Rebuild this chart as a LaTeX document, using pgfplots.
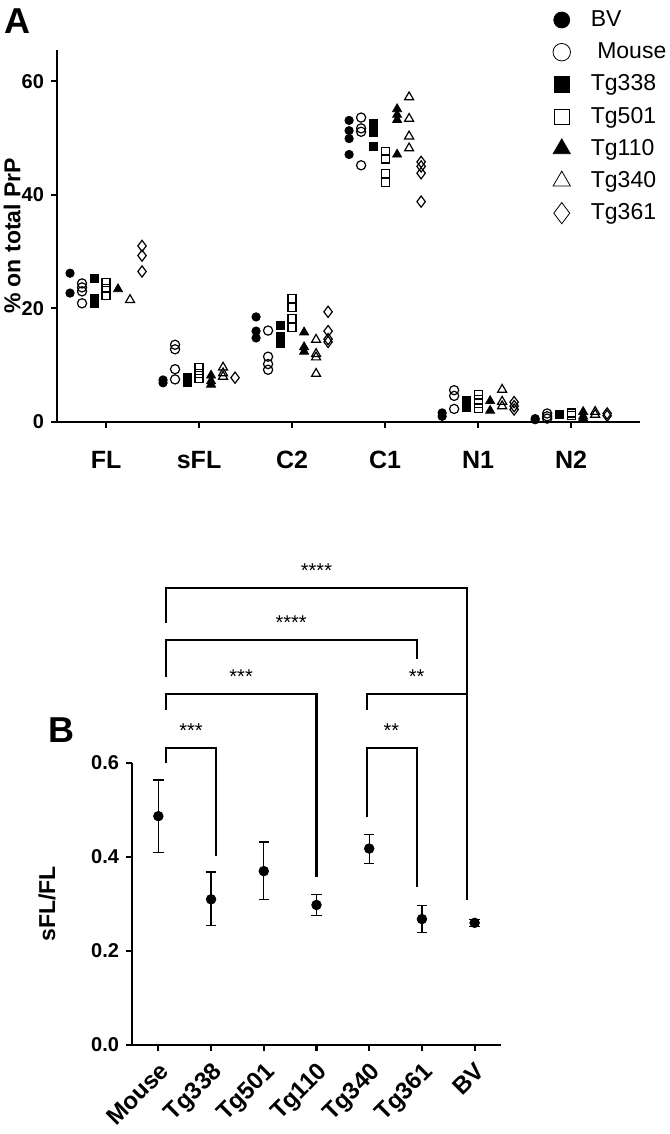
\documentclass[border=0pt]{standalone}
\usepackage{fontspec}
\setmainfont{Liberation Sans}
\usepackage{pgfplots}
\pgfplotsset{compat=1.18}

\pgfplotsset{
  gp/.style={
    scale only axis,
    axis lines*=left,
    axis line style={line width=1pt},
    tick style={line width=1pt, black},
    tick align=outside,
    major tick length=3pt,
    clip=false,
    /pgf/number format/assume math mode=true,
    yticklabel style={font=\bfseries\fontsize{10}{12}\selectfont},
  },
  sBV/.style={black, only marks, mark=*, mark size=2.1pt},
  sMouse/.style={black, only marks, mark=o, mark size=2.3pt, mark options={line width=0.6pt}},
  sT338/.style={black, only marks, mark=square*, mark size=2pt},
  sT501/.style={black, only marks, mark=square, mark size=2pt, mark options={line width=0.6pt}},
  sT110/.style={black, only marks, mark=triangle*, mark size=2.6pt},
  sT340/.style={black, only marks, mark=triangle, mark size=2.6pt, mark options={line width=0.6pt}},
  sT361/.style={black, only marks, mark=diamond, mark size=2.8pt, mark options={line width=0.6pt}},
}

\begin{document}
\begin{tikzpicture}
\useasboundingbox (0,0) rectangle (334.5pt,-567pt);

% ---------------- panel A ----------------
\begin{axis}[gp,
  at={(28.5pt,-211pt)}, anchor=south west,
  width=291.5pt, height=186pt,
  xmin=-0.527, xmax=5.74, ymin=0, ymax=65.5,
  xtick={0,...,5},
  xticklabels={FL,sFL,C2,C1,N1,N2},
  xticklabel style={font=\bfseries\fontsize{12.5}{14}\selectfont, yshift=-8pt},
  ytick={0,20,40,60},
  ylabel={\% on total PrP},
  ylabel style={font=\bfseries\fontsize{11.5}{13}\selectfont, at={(axis description cs:-0.077,0.5)}, anchor=center},
  legend style={at={(axis description cs:0.84,1.118)}, anchor=north west, draw=none, fill=none,
    font=\fontsize{11.5}{13}\selectfont, row sep=2.6pt, inner sep=0pt,
    nodes={inner sep=1pt, text height=9pt, text depth=2.5pt}},
  legend cell align=left,
  legend image code/.code={\draw[#1, mark options={scale=1.9}] plot coordinates {(0.25cm,0cm)};
    \path (0cm,0cm) (0.72cm,0cm);},
]
\addplot[sBV] coordinates {(-0.387,26.2)(-0.387,22.7)(0.613,7.4)(0.613,6.9)(1.613,18.5)(1.613,16.0)(1.613,14.8)
  (2.613,53.1)(2.613,51.3)(2.613,49.9)(2.613,47.1)(3.613,1.6)(3.613,1.0)(4.613,0.6)(4.613,0.4)};
\addplot[sMouse] coordinates {(-0.258,24.4)(-0.258,23.7)(-0.258,23.0)(-0.258,20.9)(0.742,13.6)(0.742,12.8)(0.742,9.3)(0.742,7.5)
  (1.742,16.1)(1.742,11.5)(1.742,10.2)(1.742,9.2)(2.742,53.6)(2.742,51.7)(2.742,51.1)(2.742,45.2)
  (3.742,5.6)(3.742,4.6)(3.742,2.3)(4.742,1.5)(4.742,1.0)(4.742,0.6)};
\addplot[sT338] coordinates {(-0.129,25.3)(-0.129,21.8)(-0.129,20.9)(0.871,7.8)(0.871,7.0)(1.871,17.0)(1.871,15.0)(1.871,13.8)
  (2.871,52.5)(2.871,51.0)(2.871,48.5)(3.871,3.8)(3.871,2.5)(4.871,1.3)};
\addplot[sT501] coordinates {(0,24.5)(0,23.5)(0,22.3)(1,9.6)(1,8.6)(1,7.6)(2,21.8)(2,20.2)(2,18.2)(2,16.6)
  (3,47.6)(3,46.3)(3,43.7)(3,42.2)(4,4.9)(4,4.0)(4,3.2)(4,2.4)(5,1.6)(5,1.2)};
\addplot[sT110] coordinates {(0.129,23.4)(1.129,8.2)(1.129,7.2)(1.129,6.6)(2.129,15.8)(2.129,13.2)(2.129,12.4)
  (3.129,55.1)(3.129,54.1)(3.129,53.2)(3.129,47.1)(4.129,3.7)(4.129,2.0)(5.129,1.8)(5.129,1.0)(5.129,0.6)};
\addplot[sT340] coordinates {(0.258,21.5)(1.258,9.6)(1.258,8.6)(1.258,8.0)(2.258,14.5)(2.258,12.0)(2.258,11.4)(2.258,8.5)
  (3.258,57.2)(3.258,53.4)(3.258,50.3)(3.258,48.2)(4.258,5.7)(4.258,3.6)(4.258,2.8)(5.258,1.8)(5.258,1.3)};
\addplot[sT361] coordinates {(0.387,31.0)(0.387,29.3)(0.387,26.5)(1.387,7.8)(2.387,19.4)(2.387,16.0)(2.387,14.6)(2.387,14.1)
  (3.387,45.8)(3.387,45.0)(3.387,43.8)(3.387,38.8)(4.387,3.5)(4.387,2.8)(4.387,2.2)(5.387,1.5)(5.387,1.1)};
\legend{BV,\ Mouse,Tg338,Tg501,Tg110,Tg340,Tg361}
\node[font=\bfseries\fontsize{18}{20}\selectfont] at (axis description cs:-0.067,1.078) {A};
\end{axis}

% ---------------- panel B ----------------
\begin{axis}[gp,
  at={(66pt,-522.5pt)}, anchor=south west,
  width=184.5pt, height=141pt,
  xmin=-0.5, xmax=6.5, ymin=0, ymax=0.6,
  xtick={0,...,6},
  xticklabels={Mouse,Tg338,Tg501,Tg110,Tg340,Tg361,BV},
  xticklabel style={rotate=45, anchor=north east, font=\bfseries\fontsize{12}{14}\selectfont},
  ytick={0,0.2,0.4,0.6},
  yticklabel style={/pgf/number format/.cd, fixed, fixed zerofill, precision=1},
  ylabel={sFL/FL},
  ylabel style={font=\bfseries\fontsize{11.5}{13}\selectfont, at={(axis description cs:-0.23,0.5)}, anchor=center},
]
\addplot[black, only marks, mark=*, mark size=2.4pt,
  error bars/.cd, y dir=both, y explicit,
  error bar style={line width=0.6pt}, error mark options={rotate=90, mark size=2.6pt, line width=0.6pt}]
  coordinates {
  (0,0.487) += (0,0.077) -= (0,0.077)
  (1,0.310) += (0,0.058) -= (0,0.055)
  (2,0.370) += (0,0.062) -= (0,0.060)
  (3,0.298) += (0,0.022) -= (0,0.023)
  (4,0.418) += (0,0.030) -= (0,0.031)
  (5,0.268) += (0,0.029) -= (0,0.028)
  (6,0.260) += (0,0.007) -= (0,0.007)
  };
% significance brackets
\addplot[black, line width=1pt] coordinates {(0.15,0.600)(0.15,0.632)(1.1,0.632)(1.1,0.402)};
\addplot[black, line width=1pt] coordinates {(3.95,0.485)(3.95,0.632)(4.9,0.632)(4.9,0.336)};
\addplot[black, line width=1pt] coordinates {(0.15,0.713)(0.15,0.747)(3.0,0.747)(3.0,0.357)};
\addplot[black, line width=1pt] coordinates {(3.95,0.713)(3.95,0.747)(5.85,0.747)(5.85,0.308)};
\addplot[black, line width=1pt] coordinates {(0.15,0.783)(0.15,0.862)(4.9,0.862)(4.9,0.821)};
\addplot[black, line width=1pt] coordinates {(0.15,0.898)(0.15,0.972)(5.85,0.972)(5.85,0.75)};
\node[font=\fontsize{10}{12}\selectfont] at (axis cs:0.62,0.668) {***};
\node[font=\fontsize{10}{12}\selectfont] at (axis cs:4.42,0.668) {**};
\node[font=\fontsize{10}{12}\selectfont] at (axis cs:1.57,0.783) {***};
\node[font=\fontsize{10}{12}\selectfont] at (axis cs:4.9,0.783) {**};
\node[font=\fontsize{10}{12}\selectfont] at (axis cs:2.52,0.898) {****};
\node[font=\fontsize{10}{12}\selectfont] at (axis cs:3.0,1.01) {****};
\node[font=\bfseries\fontsize{18}{20}\selectfont] at (axis description cs:-0.19,1.117) {B};
\end{axis}
\end{tikzpicture}
\end{document}
